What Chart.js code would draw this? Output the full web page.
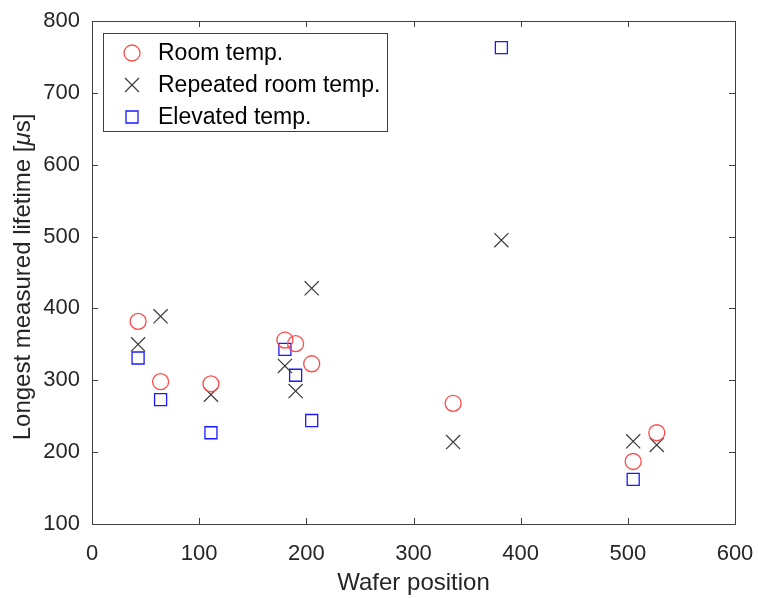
<!DOCTYPE html>
<html>
<head>
<meta charset="utf-8">
<script src="https://cdn.jsdelivr.net/npm/chart.js@4"></script>
<style>
  body { margin: 0; background: #fff; }
  #wrap { width: 758px; height: 598px; }
</style>
</head>
<body>
<div id="wrap"><canvas id="mycanvas"></canvas></div>
<script>
// wafer positions and lifetimes
var roomX = [43, 64, 111, 180, 190, 205, 337, 505, 527];
var roomY = [382, 298, 295, 356, 351, 323, 268, 187, 227];

var repX = [43, 64, 111, 180, 190, 205, 337, 382, 505, 527];
var repY = [350, 389, 280, 320, 285, 428, 214, 495, 215, 210];

var elevX = [43, 64, 111, 180, 190, 205, 382, 505];
var elevY = [331, 273, 227, 343, 307, 244, 763, 162];

var labels = ['Room temp.', 'Repeated room temp.', 'Elevated temp.'];
var xTicks = [0, 100, 200, 300, 400, 500, 600];
var yTicks = [100, 200, 300, 400, 500, 600, 700, 800];

function pts(xs, ys) {
  var out = [];
  for (var i in xs) out.push({x: xs[i], y: ys[i]});
  return out;
}

var FONT = '"Liberation Sans", Arial, sans-serif';
var TXT = '#262626';

var datasets = [
  {
    label: labels[0],
    data: pts(roomX, roomY),
    pointStyle: 'circle',
    pointRadius: 8,
    borderColor: '#ff4a4a',
    backgroundColor: 'rgba(0,0,0,0)',
    borderWidth: 1.3
  },
  {
    label: labels[1],
    data: pts(repX, repY),
    pointStyle: 'crossRot',
    pointRadius: 10,
    borderColor: '#3c3c3c',
    backgroundColor: 'rgba(0,0,0,0)',
    borderWidth: 1.2
  },
  {
    label: labels[2],
    data: pts(elevX, elevY),
    pointStyle: 'rect',
    pointRadius: 8.5,
    borderColor: '#1a1aff',
    backgroundColor: 'rgba(0,0,0,0)',
    borderWidth: 1.3
  }
];

// box round the axes, inward ticks, legend inside, y title with italic mu
var extras = {
  id: 'extras',
  afterDatasetsDraw: function(chart) {
    var ctx = chart.ctx, a = chart.chartArea;
    var xs = chart.scales.x, ys = chart.scales.y;
    ctx.save();
    ctx.strokeStyle = '#404040';
    ctx.lineWidth = 1;
    ctx.strokeRect(Math.round(a.left) + 0.5, Math.round(a.top) + 0.5,
      Math.round(a.right - a.left), Math.round(a.bottom - a.top));
    ctx.beginPath();
    xTicks.forEach(function(v) {
      var p = Math.round(xs.getPixelForValue(v)) + 0.5;
      ctx.moveTo(p, a.bottom); ctx.lineTo(p, a.bottom - 6);
      ctx.moveTo(p, a.top); ctx.lineTo(p, a.top + 6);
    });
    yTicks.forEach(function(v) {
      var p = Math.round(ys.getPixelForValue(v)) + 0.5;
      ctx.moveTo(a.left, p); ctx.lineTo(a.left + 6, p);
      ctx.moveTo(a.right, p); ctx.lineTo(a.right - 6, p);
    });
    ctx.stroke();

    // legend
    ctx.font = '23px ' + FONT;
    var bx = a.left + 11, by = a.top + 12;
    var mx = bx + 29, tx = bx + 55;
    var w = 0;
    labels.forEach(function(l) { w = Math.max(w, ctx.measureText(l).width); });
    var bw = tx + w + 7 - bx, bh = 98;
    ctx.fillStyle = '#fff';
    ctx.fillRect(bx, by, bw, bh);
    ctx.strokeStyle = '#404040';
    ctx.strokeRect(Math.round(bx) + 0.5, Math.round(by) + 0.5, Math.round(bw), bh);
    ctx.textBaseline = 'middle';
    labels.forEach(function(l, i) {
      var cy = by + 20 + i * 32;
      var ds = datasets[i];
      ctx.strokeStyle = ds.borderColor;
      ctx.lineWidth = ds.borderWidth;
      ctx.beginPath();
      if (i === 0) {
        ctx.arc(mx, cy, 8, 0, Math.PI * 2);
      } else if (i === 1) {
        ctx.moveTo(mx - 7, cy - 7); ctx.lineTo(mx + 7, cy + 7);
        ctx.moveTo(mx + 7, cy - 7); ctx.lineTo(mx - 7, cy + 7);
      } else {
        ctx.rect(mx - 6, cy - 6, 12, 12);
      }
      ctx.stroke();
      ctx.fillStyle = '#000';
      ctx.fillText(l, tx, cy + 1);
    });

    // y axis title
    ctx.translate(23, 277);
    ctx.rotate(-Math.PI / 2);
    ctx.fillStyle = TXT;
    ctx.textBaseline = 'middle';
    var parts = [['Longest measured lifetime [', 'normal'], ['\u03bc', 'italic'], ['s]', 'normal']];
    var total = 0;
    parts.forEach(function(p) {
      ctx.font = p[1] + ' 24px ' + FONT;
      total += ctx.measureText(p[0]).width;
    });
    var x0 = -total / 2;
    parts.forEach(function(p) {
      ctx.font = p[1] + ' 24px ' + FONT;
      ctx.fillText(p[0], x0, 0);
      x0 += ctx.measureText(p[0]).width;
    });
    ctx.restore();
  }
};

var ctx = document.getElementById('mycanvas');

var chart = new Chart(ctx, {
  type: 'scatter',
  data: { datasets: datasets },
  options: {
    responsive: true,
    maintainAspectRatio: false,
    animation: false,
    layout: { padding: { left: 0, right: 23, top: 21, bottom: 0 } },
    plugins: {
      legend: { display: false },
      tooltip: { enabled: false }
    },
    scales: {
      x: {
        type: 'linear',
        min: 0, max: 600,
        afterBuildTicks: function(s) { s.ticks = xTicks.map(function(v) { return {value: v}; }); },
        afterFit: function(s) { s.height = 74; s.paddingLeft = 0; s.paddingRight = 0; },
        grid: { display: false, drawTicks: false },
        border: { display: false },
        ticks: { color: TXT, font: { size: 22, family: FONT }, padding: 17, maxRotation: 0 },
        title: { display: true, text: 'Wafer position', color: TXT, font: { size: 24, family: FONT }, padding: { top: 0, bottom: 0 } }
      },
      y: {
        type: 'linear',
        min: 100, max: 800,
        afterBuildTicks: function(s) { s.ticks = yTicks.map(function(v) { return {value: v}; }); },
        afterFit: function(s) { s.width = 92; s.paddingTop = 0; s.paddingBottom = 0; },
        grid: { display: false, drawTicks: false },
        border: { display: false },
        ticks: { color: TXT, font: { size: 22, family: FONT }, padding: 12 }
      }
    }
  },
  plugins: [extras]
});
</script>
</body>
</html>
